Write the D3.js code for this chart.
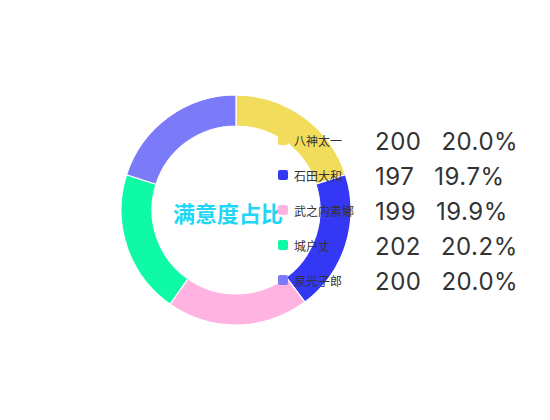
<!DOCTYPE html>
<html><head><meta charset="utf-8">
<script src="https://cdn.jsdelivr.net/npm/d3@7/dist/d3.min.js"></script>
<style>html,body{margin:0;padding:0;background:#fff;}svg{display:block;}</style>
</head><body>
<svg id="c" width="550" height="420"></svg>
<script>
const names = ["八神太一", "石田大和", "武之内素娜", "城户丈", "泉光子郎"];
const values = [200, 197, 199, 202, 200];
const colors = ["#f2dc5b", "#3438f4", "#ffb3e1", "#0efaa6", "#7b7bfa"];
const title = "满意度占比";

const svg = d3.select("#c");
const cx = 236, cy = 210, R = 115, r = 84;
const total = d3.sum(values);
const data = names.map((n, i) => ({name: n, value: values[i], color: colors[i]}));

const pie = d3.pie().value(d => d.value).sort(null);
const arc = d3.arc().innerRadius(r).outerRadius(R);
const g = svg.append("g").attr("transform", `translate(${cx},${cy})`);
g.selectAll("path").data(pie(data)).enter().append("path")
  .attr("d", arc).attr("fill", d => d.data.color)
  .attr("stroke", "#fff").attr("stroke-width", 1.2);

g.append("text").attr("x", -8).attr("y", 2)
  .attr("text-anchor", "middle").attr("dominant-baseline", "central")
  .attr("font-family", "'Noto Sans CJK SC', sans-serif").attr("font-weight", "bold")
  .attr("font-size", 22).attr("fill", "#1fd6f6").text(title);

const y = d3.scalePoint().domain(names).range([140, 280]);
const lg = svg.append("g");
const row = lg.selectAll("g").data(data).enter().append("g")
  .attr("transform", d => `translate(0,${y(d.name)})`);
row.append("rect").attr("x", 278).attr("y", -5).attr("width", 10).attr("height", 10)
  .attr("rx", 2).attr("fill", d => d.color);
row.append("text").attr("x", 294).attr("y", 0).attr("dominant-baseline", "central")
  .attr("font-family", "'Noto Sans CJK SC', sans-serif").attr("font-size", 12)
  .attr("fill", "#333").text(d => d.name);
const vt = row.append("text").attr("x", 375).attr("y", 1).attr("dominant-baseline", "central")
  .attr("font-family", "Inter, 'Liberation Sans', sans-serif").attr("font-size", 24)
  .attr("letter-spacing", 0.5).attr("fill", "#333");
vt.append("tspan").text(d => d.value);
vt.append("tspan").attr("dx", 20).text(d => (d.value / total * 100).toFixed(1) + "%");
</script>
</body></html>
